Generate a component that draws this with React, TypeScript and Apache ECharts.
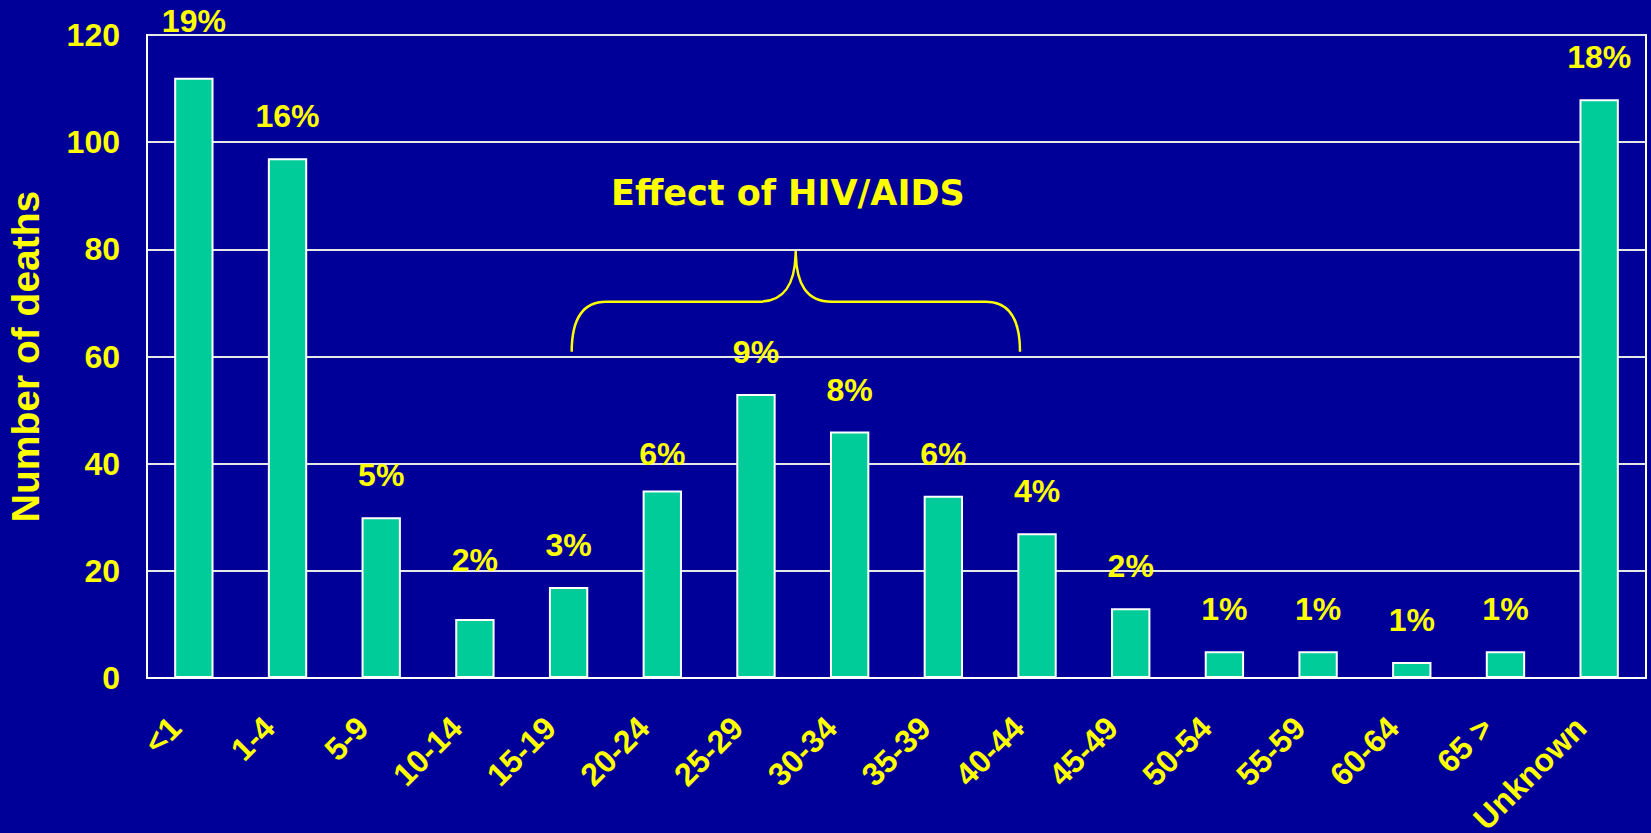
import React, { useEffect, useRef } from "react";
import * as echarts from "echarts";

const categories = ["<1", "1-4", "5-9", "10-14", "15-19", "20-24", "25-29", "30-34", "35-39", "40-44", "45-49", "50-54", "55-59", "60-64", "65 >", "Unknown"];
const deaths = [112, 97, 30, 11, 17, 35, 53, 46, 34, 27, 13, 5, 5, 3, 5, 108];
const percents = ["19%", "16%", "5%", "2%", "3%", "6%", "9%", "8%", "6%", "4%", "2%", "1%", "1%", "1%", "1%", "18%"];
const yTicks = [0, 20, 40, 60, 80, 100, 120];

// vertical nudges of the percent labels, as placed in the original slide
const labelNudge = [-15, 0, 0, -17, 0, 6, 0, 0, 0, 0, 0, 0, 0, 0, 0, 0];

const BRACE_D =
  "M571.7 351.7 C571.7 320 582 301.7 606 301.7 L759 301.7 C784 301.7 795.7 285 795.7 250 " +
  "C795.7 285 807 301.7 832 301.7 L986 301.7 C1010 301.7 1020 320 1020 351.7";

let registered = false;

export default function App() {
  const ref = useRef<HTMLDivElement>(null);
  useEffect(() => {
    if (!ref.current) return;
    if (!registered) {
      echarts.graphic.registerShape("brace", echarts.graphic.extendPath(BRACE_D, {}));
      registered = true;
    }
    const chart = echarts.init(ref.current, null, { renderer: "svg" });
    const font = "'Liberation Sans', Arial, sans-serif";
    chart.setOption({
      animation: false,
      backgroundColor: "#000099",
      grid: {
        left: 147,
        top: 35,
        right: 5,
        bottom: 155,
        show: true,
        borderColor: "#ffffff",
        borderWidth: 2,
        containLabel: false,
        outerBoundsMode: "none",
      },
      xAxis: {
        type: "category",
        data: categories,
        axisLine: { show: true, lineStyle: { color: "#ffffff", width: 2 } },
        axisTick: { show: false },
        axisLabel: {
          interval: 0,
          rotate: 45,
          margin: 26,
          padding: [0, 26, 0, 0],
          color: "#ffff00",
          fontFamily: font,
          fontWeight: "bold",
          fontSize: 32,
        },
      },
      yAxis: {
        type: "value",
        min: yTicks[0],
        max: yTicks[yTicks.length - 1],
        interval: 20,
        name: "Number of deaths",
        nameLocation: "middle",
        nameGap: 102,
        nameTextStyle: {
          color: "#ffff00",
          fontFamily: font,
          fontWeight: "bold",
          fontSize: 39,
        },
        axisLine: { show: true, lineStyle: { color: "#ffffff", width: 2 } },
        axisTick: { show: false },
        splitLine: { show: true, lineStyle: { color: "#e6e6e6", width: 2 } },
        axisLabel: {
          margin: 27,
          color: "#ffff00",
          fontFamily: font,
          fontWeight: "bold",
          fontSize: 32,
        },
      },
      series: [
        {
          type: "bar",
          barWidth: "42%",
          data: deaths.map((v, i) => ({
            value: v,
            label: { offset: [0, labelNudge[i]] },
          })),
          itemStyle: { color: "#00cc99", borderColor: "#ffffff", borderWidth: 2 },
          label: {
            show: true,
            position: "top",
            distance: 26,
            formatter: (p: any) => percents[p.dataIndex],
            color: "#ffff00",
            fontFamily: font,
            fontWeight: "bold",
            fontSize: 32,
          },
        },
      ],
      graphic: [
        {
          type: "text",
          left: 789 - 178,
          top: 193 - 18,
          style: {
            text: "Effect of HIV/AIDS",
            fill: "#ffff00",
            font: "bold 35px 'DejaVu Sans', Verdana, sans-serif",
          },
        },
        {
          type: "brace",
          x: 0,
          y: 0,
          style: { fill: "none", stroke: "#ffff00", lineWidth: 2.5 },
        },
      ],
    });
    return () => chart.dispose();
  }, []);
  return (
    <div
      ref={ref}
      style={{ position: "fixed", left: 0, top: 0, width: 1651, height: 833 }}
    />
  );
}
